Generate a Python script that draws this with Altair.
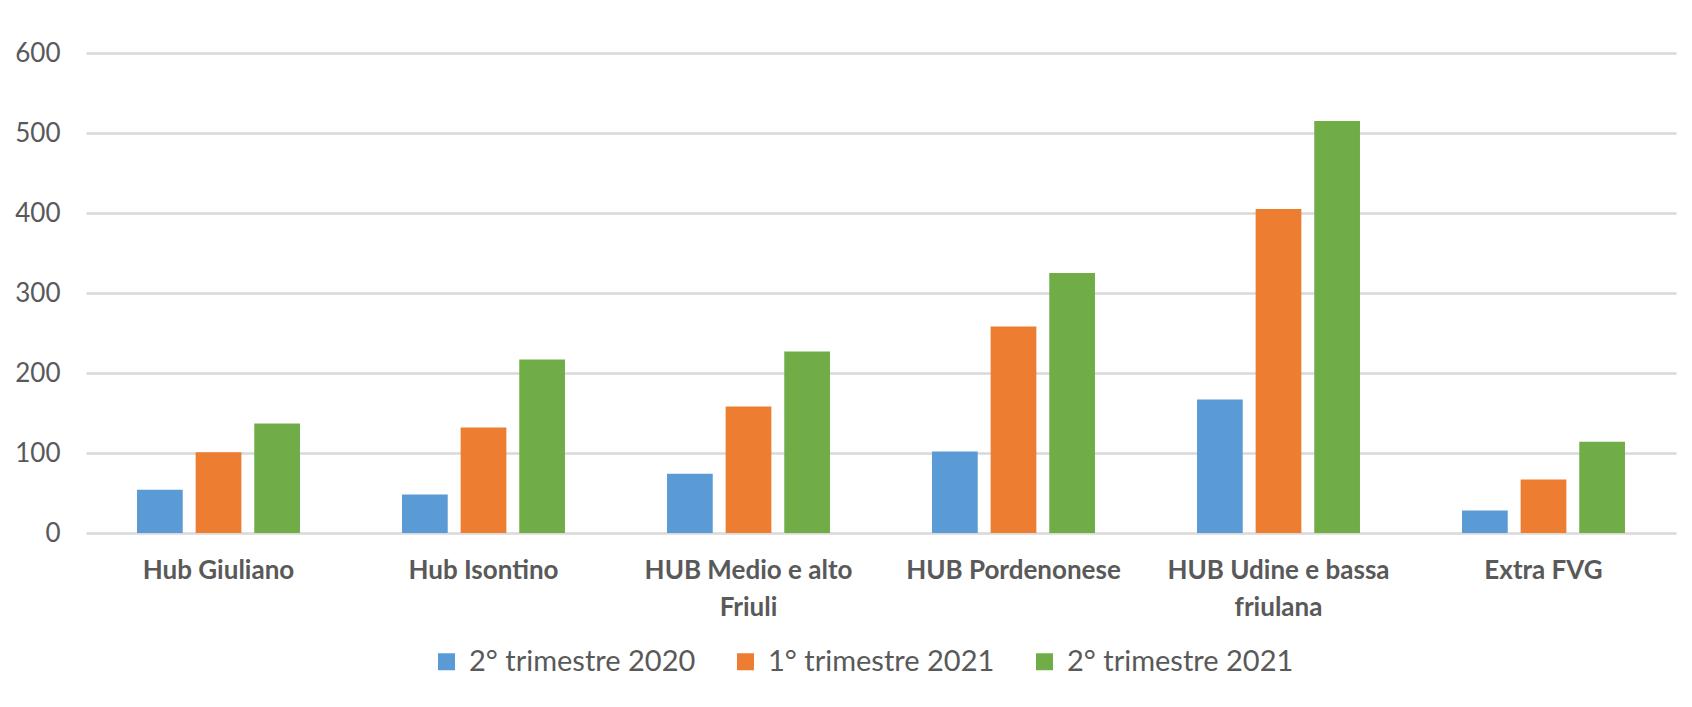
import altair as alt
import pandas as pd

categories = [
    "Hub Giuliano",
    "Hub Isontino",
    "HUB Medio e alto|Friuli",
    "HUB Pordenonese",
    "HUB Udine e bassa|friulana",
    "Extra FVG",
]
series = ["2° trimestre 2020", "1° trimestre 2021", "2° trimestre 2021"]
q2_2020 = [54, 48, 74, 102, 167, 28]
q1_2021 = [101, 132, 158, 258, 405, 67]
q2_2021 = [137, 217, 227, 325, 515, 114]
colors = ["#5B9BD5", "#ED7D31", "#70AD47"]
y_ticks = [0, 100, 200, 300, 400, 500, 600]

rows = []
for s, vals in zip(series, [q2_2020, q1_2021, q2_2021]):
    for c, v in zip(categories, vals):
        rows.append({"categoria": c, "serie": s, "valore": v})
df = pd.DataFrame(rows)

TXT = "#595959"
FONT = "Lato"

chart = (
    alt.Chart(df)
    .mark_bar()
    .encode(
        x=alt.X(
            "categoria:N",
            sort=categories,
            scale=alt.Scale(paddingInner=0.385, paddingOuter=0.1925),
            axis=alt.Axis(
                title=None,
                labelAngle=0,
                labelExpr="split(datum.value, '|')",
                labelFont=FONT,
                labelFontSize=26,
                labelFontWeight="bold",
                labelColor=TXT,
                labelLineHeight=37,
                labelPadding=24,
                ticks=False,
                domain=False,
                labelLimit=400,
                grid=False,
            ),
        ),
        xOffset=alt.XOffset(
            "serie:N",
            sort=series,
            scale=alt.Scale(paddingInner=0.22, paddingOuter=0),
        ),
        y=alt.Y(
            "valore:Q",
            scale=alt.Scale(domain=[0, 600], nice=False),
            axis=alt.Axis(
                title=None,
                values=y_ticks,
                labelFont=FONT,
                labelFontSize=26,
                labelColor=TXT,
                labelPadding=26,
                ticks=False,
                domain=False,
                gridColor="#D9D9D9",
                gridWidth=2.5,
            ),
        ),
        color=alt.Color(
            "serie:N",
            sort=series,
            scale=alt.Scale(domain=series, range=colors),
            legend=alt.Legend(
                title=None,
                orient="none",
                direction="horizontal",
                legendX=346,
                legendY=594,
                symbolType="square",
                symbolSize=289,
                symbolStrokeWidth=0,
                labelFont=FONT,
                labelFontSize=29,
                labelColor=TXT,
                labelOffset=8,
                columnPadding=35,
                labelLimit=400,
            ),
        ),
    )
    .properties(
        width=1590,
        height=480,
        autosize=alt.AutoSizeParams(type="none"),
        padding={"left": 78, "top": 45, "right": 8, "bottom": 160},
    )
    .configure(background="white")
    .configure_view(strokeWidth=0, stroke=None)
)

chart.save("out.html", embed_options={"renderer": "svg", "actions": False})
